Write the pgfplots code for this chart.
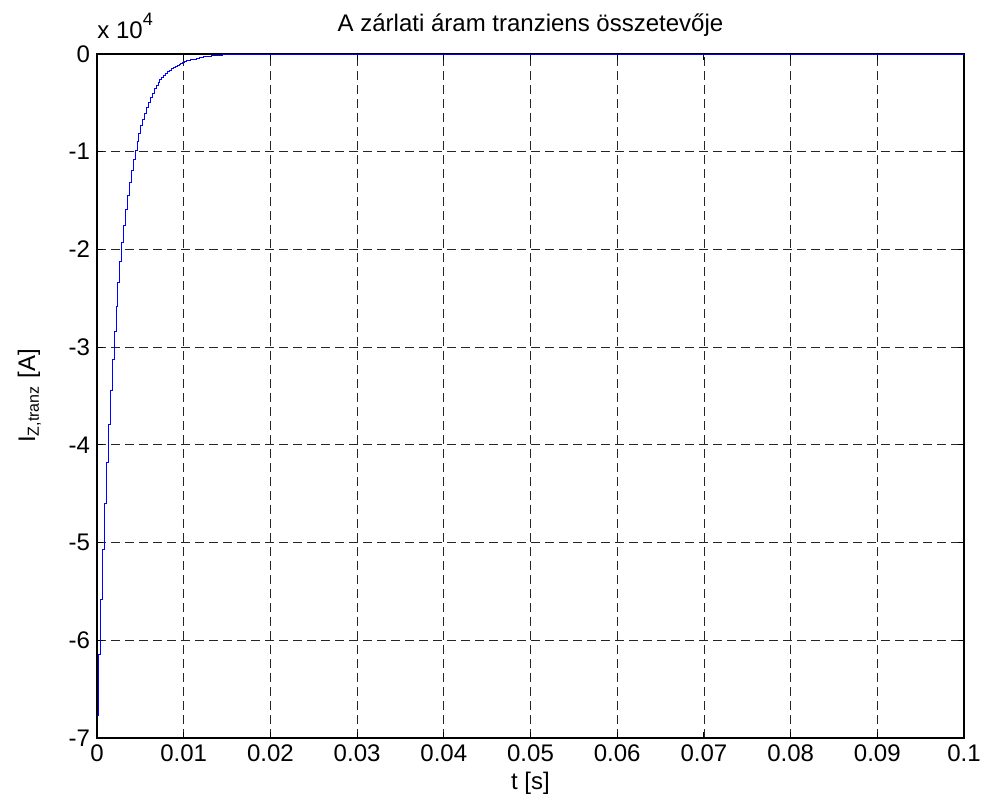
\documentclass[border=0pt]{standalone}
\usepackage{pgfplots}
\pgfplotsset{compat=1.18}
\usepackage{fontspec}
\setmainfont{Liberation Sans}
\begin{document}
\begin{tikzpicture}
\begin{axis}[
  scale only axis,
  width=433.5pt, height=342pt,
  xmin=0, xmax=0.1, ymin=-7, ymax=0,
  xtick={0,0.01,0.02,0.03,0.04,0.05,0.06,0.07,0.08,0.09,0.1},
  xticklabels={0,0.01,0.02,0.03,0.04,0.05,0.06,0.07,0.08,0.09,0.1},
  ytick={-7,-6,-5,-4,-3,-2,-1,0},
  yticklabels={-7,-6,-5,-4,-3,-2,-1,0},
  tick align=inside,
  major tick length=3pt,
  tick style={black, line width=0.5pt},
  grid=major,
  major grid style={black!85, dash pattern=on 4.5pt off 2.5pt, line width=0.4pt},
  axis line style={black, line width=0.6pt},
  tick label style={font=\fontsize{12}{13}\selectfont},
  label style={font=\fontsize{12}{13}\selectfont},
  title style={font=\fontsize{12}{13}\selectfont, yshift=-1pt},
  title={A zárlati áram tranziens összetevője},
  xlabel={t [s]},
  ylabel={I\textsubscript{Z,tranz} [A]},
  xlabel style={yshift=2pt},
  ylabel style={yshift=7pt},
  clip=true,
]
\addplot[const plot, blue, line width=0.5pt] table {
t v
0 -6.770
0.00022 -6.147
0.00044 -5.581
0.00066 -5.068
0.00088 -4.602
0.00110 -4.179
0.00132 -3.794
0.00154 -3.445
0.00176 -3.128
0.00198 -2.840
0.00220 -2.579
0.00242 -2.342
0.00264 -2.127
0.00286 -1.931
0.00308 -1.753
0.00330 -1.592
0.00352 -1.446
0.00374 -1.313
0.00396 -1.192
0.00418 -1.082
0.00440 -0.983
0.00462 -0.892
0.00484 -0.810
0.00506 -0.735
0.00528 -0.668
0.00550 -0.606
0.00572 -0.551
0.00594 -0.500
0.00616 -0.450
0.00638 -0.400
0.00660 -0.355
0.00682 -0.320
0.00704 -0.290
0.00726 -0.262
0.00748 -0.238
0.00770 -0.216
0.00792 -0.197
0.00814 -0.180
0.00836 -0.164
0.00858 -0.149
0.00880 -0.136
0.00902 -0.124
0.00924 -0.113
0.00946 -0.103
0.00968 -0.094
0.00990 -0.086
0.01012 -0.078
0.01034 -0.071
0.01056 -0.064
0.01078 -0.058
0.01100 -0.052
0.01144 -0.043
0.01188 -0.035
0.01232 -0.028
0.01276 -0.023
0.01320 -0.018
0.01386 -0.013
0.01452 -0.009
0.01540 -0.006
0.0165 -0.004
0.0176 -0.002
0.0198 -0.001
0.1 0
};
\coordinate (ll) at (rel axis cs:0,0);
\coordinate (ul) at (rel axis cs:0,1);
\end{axis}
\node[anchor=base west, font=\fontsize{12}{13}\selectfont, inner sep=0pt] at ([yshift=7.5pt]ul) {x 10\raisebox{0.55em}{\fontsize{9}{9}\selectfont 4}};
\pgfresetboundingbox
\path ([shift={(-48.5pt,-36.5pt)}]ll) rectangle ([shift={(444pt,369pt)}]ll);
\end{tikzpicture}
\end{document}
